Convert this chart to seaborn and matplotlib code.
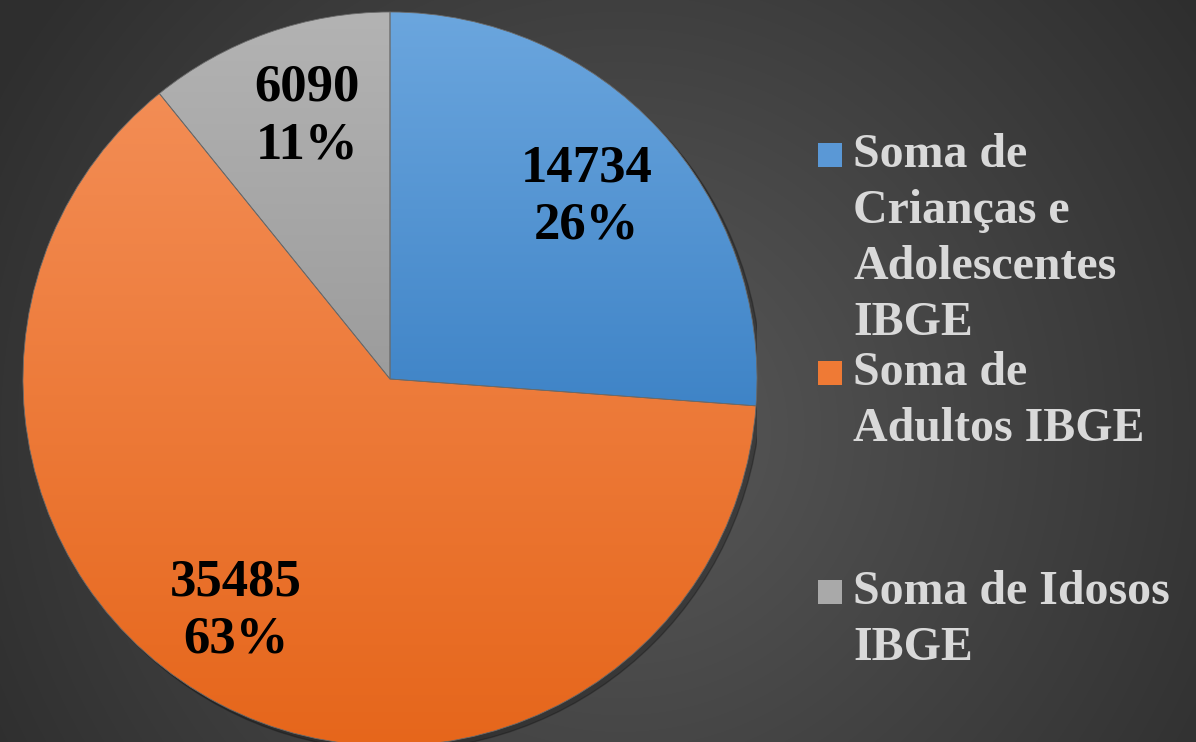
import numpy as np
import matplotlib
matplotlib.use("Agg")
import matplotlib.pyplot as plt
import matplotlib.colors as mcolors
from matplotlib.patches import Rectangle
import seaborn as sns

# ============================================
# DATA
# ============================================
categories = [
    "Soma de\nCrianças e\nAdolescentes\nIBGE",
    "Soma de\nAdultos IBGE",
    "Soma de Idosos\nIBGE",
]
values = [14734, 35485, 6090]

# gradient colours per slice (top -> bottom)
top_colors = ["#6ba6de", "#f38d55", "#b3b3b3"]
bottom_colors = ["#3f84c7", "#e6661b", "#9c9c9c"]
legend_colors = ["#5a98d6", "#ef7a35", "#a9a9a9"]

# label placement (distance from centre, angle nudge in degrees)
label_dist = [0.73, 0.76, 0.75]
label_nudge = [0, -6, -2]

sns.set_theme(style="dark")
plt.rcParams["font.family"] = ["Liberation Serif", "DejaVu Serif"]

W, H = 1196, 742
fig = plt.figure(figsize=(W / 100, H / 100), dpi=100)

# ============================================
# BACKGROUND (radial grey gradient)
# ============================================
bg = fig.add_axes([0, 0, 1, 1])
yy, xx = np.mgrid[0:H, 0:W]
d = np.sqrt((xx - 620) ** 2 + (yy - 430) ** 2) / 720
d = np.clip(d, 0, 1)
c_in = np.array(mcolors.to_rgb("#595959"))
c_out = np.array(mcolors.to_rgb("#2e2e2e"))
img = c_in[None, None, :] * (1 - d[..., None]) + c_out[None, None, :] * d[..., None]
bg.imshow(img, extent=[0, W, H, 0], aspect="auto")
bg.set_axis_off()

# ============================================
# PIE
# ============================================
cx, cy, r = 390, 379, 367
ax = fig.add_axes([(cx - r) / W, (H - cy - r) / H, 2 * r / W, 2 * r / H])
ax.set_xlim(-1, 1)
ax.set_ylim(-1, 1)
ax.set_axis_off()

# soft shadow
shadow = plt.Circle((0.012, -0.012), 1.0, color="black", alpha=0.25, zorder=0)
ax.add_patch(shadow)

wedges, _ = ax.pie(values, startangle=90, counterclock=False, radius=1,
                   colors=legend_colors,
                   wedgeprops=dict(edgecolor="#6a6a6a", linewidth=0.6))

total = sum(values)
for i, w in enumerate(wedges):
    w.set_zorder(2)
    verts = w.get_path().vertices
    ymin, ymax = verts[:, 1].min(), verts[:, 1].max()
    t = np.linspace(0, 1, 256)[:, None]
    ct = np.array(mcolors.to_rgb(top_colors[i]))
    cb = np.array(mcolors.to_rgb(bottom_colors[i]))
    grad = ct * (1 - t) + cb * t
    grad = np.repeat(grad[:, None, :], 2, axis=1)
    im = ax.imshow(grad, extent=[-1, 1, ymin, ymax], aspect="auto", zorder=1,
                   origin="upper")
    im.set_clip_path(w)
    w.set_facecolor("none")

    # value + percentage label
    mid = np.deg2rad((w.theta1 + w.theta2) / 2 + label_nudge[i])
    lx = label_dist[i] * np.cos(mid)
    ly = label_dist[i] * np.sin(mid)
    pct = values[i] / total * 100
    ax.text(lx, ly, f"{values[i]}\n{pct:.0f}%", ha="center", va="center",
            fontsize=38, fontweight="bold", color="black", linespacing=1.25,
            zorder=5)

ax.set_xlim(-1, 1)
ax.set_ylim(-1, 1)

# ============================================
# LEGEND (drawn by hand, one slot per entry)
# ============================================
first_line = [155, 373, 592]
pitch = 56
for i, lab in enumerate(categories):
    yc = first_line[i]
    fig.patches.append(Rectangle((818 / W, 1 - (yc + 12) / H), 24 / W, 24 / H,
                                 transform=fig.transFigure, figure=fig,
                                 facecolor=legend_colors[i], edgecolor="none"))
    for j, line in enumerate(lab.split("\n")):
        fig.text(853 / W, 1 - (yc + j * pitch) / H, line, ha="left", va="center",
                 fontsize=34.5, fontweight="bold", color="#d9d9d9")

fig.savefig("out.png", dpi=100)
